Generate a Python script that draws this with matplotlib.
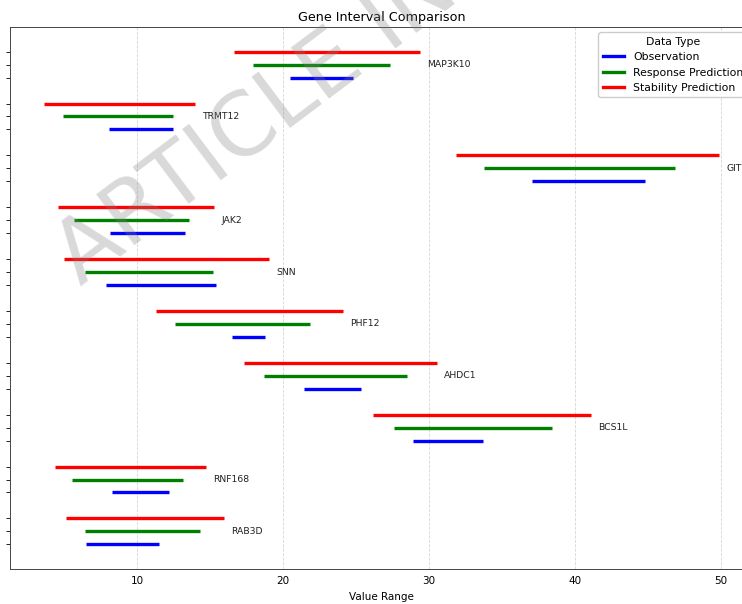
import matplotlib
matplotlib.use("Agg")
import matplotlib.pyplot as plt
from matplotlib.lines import Line2D

# Genes listed from top to bottom
genes = ["MAP3K10", "TRMT12", "GIT1", "JAK2", "SNN", "PHF12", "AHDC1", "BCS1L", "RNF168", "RAB3D"]

obs_start = [20.48, 8.06, 37.08, 8.15, 7.86, 16.53, 21.42, 28.88, 8.29, 6.53]
obs_end = [24.77, 12.44, 44.79, 13.31, 15.43, 18.79, 25.36, 33.70, 12.17, 11.51]

resp_start = [17.92, 4.93, 33.79, 5.66, 6.44, 12.60, 18.72, 27.62, 5.57, 6.46]
resp_end = [27.33, 12.44, 46.83, 13.54, 15.18, 21.85, 28.49, 38.45, 13.17, 14.34]

stab_start = [16.66, 3.61, 31.87, 4.57, 5.00, 11.28, 17.35, 26.16, 4.40, 5.16]
stab_end = [29.38, 13.97, 49.88, 15.27, 19.02, 24.13, 30.55, 41.07, 14.70, 15.94]

series_names = ["Observation", "Response Prediction", "Stability Prediction"]
series_colors = ["blue", "green", "red"]
series_offsets = [-0.25, 0.0, 0.25]

fig = plt.figure(figsize=(7.42, 6.04), dpi=100)
ax = fig.add_axes([10 / 742, 1 - 569 / 604, 743 / 742, 542 / 604])

n = len(genes)
centers = [n - 1 - i for i in range(n)]
starts = [obs_start, resp_start, stab_start]
ends = [obs_end, resp_end, stab_end]

lw = 2.4
yticks = []
for s_vals, e_vals, color, off in zip(starts, ends, series_colors, series_offsets):
    ys = [c + off for c in centers]
    ax.hlines(ys, s_vals, e_vals, colors=color, linewidth=lw)
    yticks.extend(ys)

for i, g in enumerate(genes):
    right = max(obs_end[i], resp_end[i], stab_end[i])
    ax.text(right + 0.5, centers[i], g, fontsize=6.7, va="center", ha="left",
            color="#222222", clip_on=False)

ax.set_yticks(sorted(yticks))
ax.set_yticklabels([])
ax.tick_params(axis="y", length=3, width=0.6)
ax.tick_params(axis="x", length=0, labelsize=7.5, pad=5)
ax.set_xticks([10, 20, 30, 40, 50])
ax.grid(axis="x", linestyle="--", color="#cccccc", linewidth=0.6, alpha=0.8)
ax.set_axisbelow(True)
for sp in ax.spines.values():
    sp.set_linewidth(0.7)
    sp.set_color("#444444")

ax.set_xlabel("Value Range", fontsize=7.5, labelpad=4)
ax.set_title("Gene Interval Comparison", fontsize=9.2, pad=4)

handles = [Line2D([0], [0], color=c, linewidth=lw) for c in series_colors]
ax.legend(handles, series_names, title="Data Type", loc="upper right",
          fontsize=7.8, title_fontsize=7.8, framealpha=1.0)

fig.text(80 / 742, 1 - 286 / 604, "ARTICLE IN PRESS", fontsize=63, color="gray",
         alpha=0.3, rotation=37, rotation_mode="anchor", ha="left", va="baseline",
         zorder=10)

fig.savefig("out.png", dpi=100)
